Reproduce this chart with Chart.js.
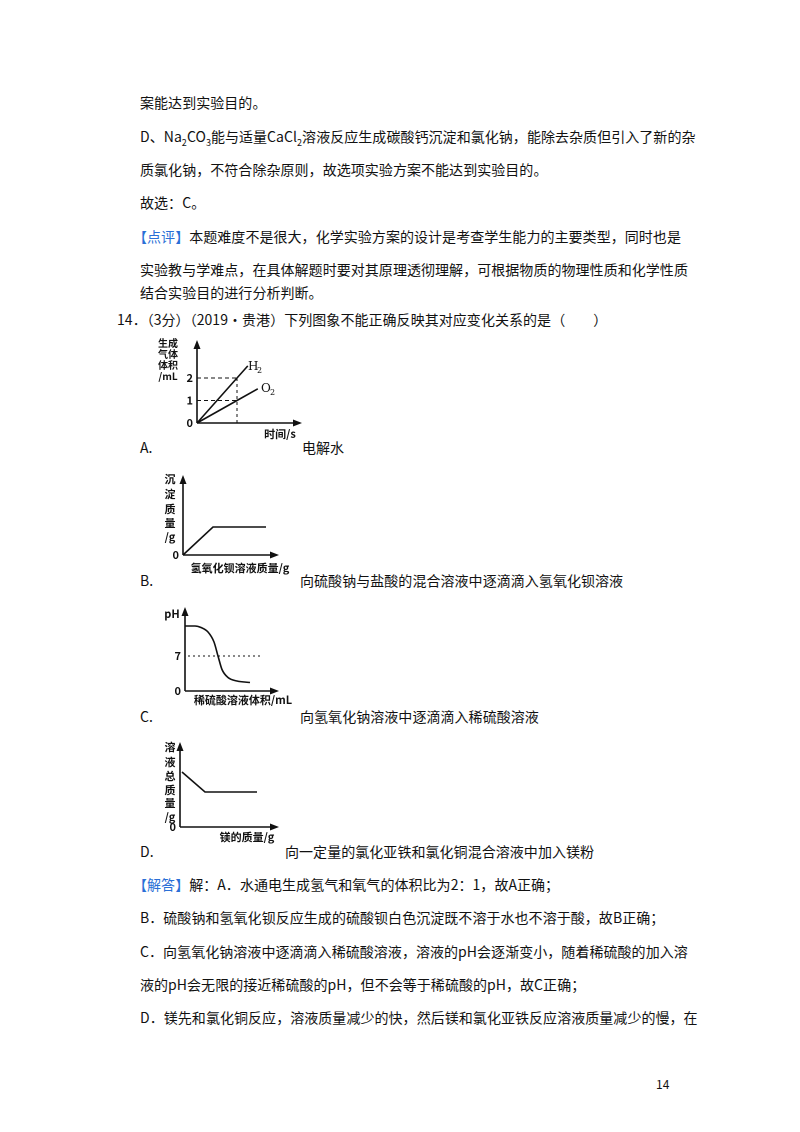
<!DOCTYPE html>
<html><head><meta charset="utf-8">
<script src="https://cdn.jsdelivr.net/npm/chart.js@4/dist/chart.umd.min.js"></script>
<style>
body{margin:0;background:#fff;width:800px;height:1132px;position:relative;overflow:hidden;font-family:"Noto Sans CJK SC",sans-serif;color:#111}
.t{position:absolute;font-size:14px;white-space:nowrap;letter-spacing:0.05px;line-height:1}
.b{color:#2a6fd6}
canvas{position:absolute}
</style></head><body>
<div class="t" style="left:140px;top:95px">案能达到实验目的。</div>
<div class="t" style="left:140px;top:129px">D、Na<sub style="font-size:9px">2</sub>CO<sub style="font-size:9px">3</sub>能与适量CaCl<sub style="font-size:9px">2</sub>溶液反应生成碳酸钙沉淀和氯化钠，能除去杂质但引入了新的杂</div>
<div class="t" style="left:140px;top:162px">质氯化钠，不符合除杂原则，故选项实验方案不能达到实验目的。</div>
<div class="t" style="left:140px;top:195px">故选：C。</div>
<div class="t" style="left:133px;top:229px"><span class="b">【点评】</span>本题难度不是很大，化学实验方案的设计是考查学生能力的主要类型，同时也是</div>
<div class="t" style="left:140px;top:262px">实验教与学难点，在具体解题时要对其原理透彻理解，可根据物质的物理性质和化学性质</div>
<div class="t" style="left:140px;top:285px">结合实验目的进行分析判断。</div>
<div class="t" style="left:117px;top:312px">14．（3分）（2019•贵港）下列图象不能正确反映其对应变化关系的是（　　）</div>
<div class="t" style="left:140px;top:440px">A.</div><div class="t" style="left:302px;top:440px">电解水</div>
<div class="t" style="left:140px;top:573px">B.</div><div class="t" style="left:300px;top:573px">向硫酸钠与盐酸的混合溶液中逐滴滴入氢氧化钡溶液</div>
<div class="t" style="left:140px;top:709px">C.</div><div class="t" style="left:300px;top:709px">向氢氧化钠溶液中逐滴滴入稀硫酸溶液</div>
<div class="t" style="left:140px;top:844px">D.</div><div class="t" style="left:285px;top:844px">向一定量的氯化亚铁和氯化铜混合溶液中加入镁粉</div>
<div class="t" style="left:133px;top:877px"><span class="b">【解答】</span>解：A．水通电生成氢气和氧气的体积比为2：1，故A正确；</div>
<div class="t" style="left:140px;top:910px">B．硫酸钠和氢氧化钡反应生成的硫酸钡白色沉淀既不溶于水也不溶于酸，故B正确；</div>
<div class="t" style="left:140px;top:944px">C．向氢氧化钠溶液中逐滴滴入稀硫酸溶液，溶液的pH会逐渐变小，随着稀硫酸的加入溶</div>
<div class="t" style="left:140px;top:977px">液的pH会无限的接近稀硫酸的pH，但不会等于稀硫酸的pH，故C正确；</div>
<div class="t" style="left:140px;top:1010px">D．镁先和氯化铜反应，溶液质量减少的快，然后镁和氯化亚铁反应溶液质量减少的慢，在</div>
<div class="t" style="left:656px;top:1078px;font-size:12px">14</div>
<canvas id="cA"></canvas><canvas id="cB"></canvas><canvas id="cC"></canvas><canvas id="cD"></canvas>
<script>
// ---- data ----
const aH2 = [[0,0],[1,2],[1.27,2.54]];
const aO2 = [[0,0],[1,1],[1.52,1.52]];
const aTicks = ['0','1','2'];
const aYLabel = ['生成','气体','体积','/mL'];
const aXLabel = '时间/s';
const bSeries = [[0,0],[3,2.8],[8.3,2.8]];
const bYLabel = ['沉','淀','质','量','/g'];
const bXLabel = '氢氧化钡溶液质量/g';
const cSeries = [[0,13],[1,13],[1.6,12.7],[2.3,11.8],[2.9,9.8],[3.3,7],[3.7,4.3],[4.3,2.7],[5.2,2],[6.5,1.7]];
const cTicks = ['0','7'];
const cYLabel = ['pH'];
const cXLabel = '稀硫酸溶液体积/mL';
const dSeries = [[0.2,5.5],[2.5,3.5],[7.7,3.5]];
const dYLabel = ['溶','液','总','质','量','/g'];
const dXLabel = '镁的质量/g';

const pts = a => a.map(p=>({x:p[0],y:p[1]}));
const F = '"Noto Sans CJK SC",sans-serif';

const sketch = {id:'sketch', afterDraw(ch){
  const o = ch.options.plugins.sketch, c = ch.ctx, L=o.box[0], T=o.box[1];
  const X=v=>ch.scales.x.getPixelForValue(v), Y=v=>ch.scales.y.getPixelForValue(v);
  const ox=X(0), oy=Y(0), top=o.yTop-T, xe=o.xEnd-L;
  c.save(); c.strokeStyle='#111'; c.fillStyle='#111'; c.lineWidth=1.6;
  c.beginPath(); c.moveTo(ox,oy); c.lineTo(ox,top+4); c.moveTo(ox,oy); c.lineTo(xe-4,oy); c.stroke();
  c.beginPath(); c.moveTo(ox,top); c.lineTo(ox-3.5,top+9); c.lineTo(ox+3.5,top+9); c.fill();
  c.beginPath(); c.moveTo(xe,oy); c.lineTo(xe-9,oy-3.5); c.lineTo(xe-9,oy+3.5); c.fill();
  (o.guides||[]).forEach(g=>{c.setLineDash(g.dash); c.lineWidth=1; c.beginPath();
    c.moveTo(X(g.a[0]),Y(g.a[1])); c.lineTo(X(g.b[0]),Y(g.b[1])); c.stroke();});
  c.setLineDash([]);
  c.font='bold 11px '+F; c.textAlign='right'; c.textBaseline='middle';
  (o.ticks||[]).forEach(t=>c.fillText(t.t, ox-4, Y(t.v)));
  c.textAlign='center';
  c.font='bold '+(o.yLabel.fs||11)+'px '+F;
  o.yLabel.lines.forEach((s,i)=>c.fillText(s, o.yLabel.x-L, o.yLabel.y[i]-T));
  c.font='bold 11px '+F;
  c.fillText(o.xLabel.t, o.xLabel.x-L, o.xLabel.y-T);
  (o.notes||[]).forEach(n=>{c.textAlign='left'; c.font='12px "DejaVu Serif",serif'; c.fillText(n.t,n.x-L,n.y-T);
    c.font='8px "DejaVu Serif",serif'; c.fillText(n.s,n.x-L+9,n.y-T+4);});
  c.restore();
}};

function make(id, cfg, datasets){
  const [L,T,W,H]=cfg.box, [ox,oy]=cfg.origin;
  const cv=document.getElementById(id);
  cv.style.left=L+'px'; cv.style.top=T+'px';
  new Chart(cv,{type:'scatter',data:{datasets:datasets.map(d=>({data:pts(d.data),showLine:true,borderColor:'#111',borderWidth:1.6,pointRadius:0,
      tension:d.smooth?0.4:0,cubicInterpolationMode:d.smooth?'monotone':'default'}))},
    options:{responsive:false,animation:false,devicePixelRatio:2,layout:{padding:0},
      plugins:{legend:{display:false},tooltip:{enabled:false},sketch:cfg},
      scales:{x:{type:'linear',display:false,min:(L-ox)/cfg.sx,max:(L+W-ox)/cfg.sx},
              y:{type:'linear',display:false,min:-(T+H-oy)/cfg.sy,max:(oy-T)/cfg.sy}}},
    plugins:[sketch]});
  cv.style.width=W+'px'; cv.style.height=H+'px';
}
function sizeCanvas(id,b){const cv=document.getElementById(id);cv.width=b[2];cv.height=b[3];}

const cfgA={box:[145,332,190,125],origin:[197,423],sx:40,sy:22.5,yTop:340,xEnd:302,
  ticks:[{v:0,t:aTicks[0]},{v:1,t:aTicks[1]},{v:2,t:aTicks[2]}],
  yLabel:{lines:aYLabel,x:168,y:[343,354,365,376],fs:10}, xLabel:{t:aXLabel,x:280,y:434},
  guides:[{a:[0,2],b:[1,2],dash:[4,3]},{a:[0,1],b:[1,1],dash:[4,3]},{a:[1,0],b:[1,2],dash:[3,3]}],
  notes:[{t:'H',s:'2',x:248,y:367},{t:'O',s:'2',x:261,y:389}]};
const cfgB={box:[145,468,190,115],origin:[183,555],sx:10,sy:10,yTop:475,xEnd:279,
  ticks:[{v:0,t:'0'}], yLabel:{lines:bYLabel,x:170,y:[479,494,509,523,537]}, xLabel:{t:bXLabel,x:240,y:568}};
const cfgC={box:[145,600,190,110],origin:[185,691],sx:10,sy:5,yTop:607,xEnd:279,
  ticks:[{v:0,t:cTicks[0]},{v:7,t:cTicks[1]}], yLabel:{lines:cYLabel,x:172,y:[614]}, xLabel:{t:cXLabel,x:243,y:700},
  guides:[{a:[0.3,7],b:[7.8,7],dash:[2,3]}]};
const cfgD={box:[145,735,190,110],origin:[180,827],sx:10,sy:10,yTop:742,xEnd:279,
  ticks:[{v:0,t:'0'}], yLabel:{lines:dYLabel,x:170,y:[747,762,776,790,803,817]}, xLabel:{t:dXLabel,x:247,y:837}};

[['cA',cfgA],['cB',cfgB],['cC',cfgC],['cD',cfgD]].forEach(([i,c])=>sizeCanvas(i,c.box));
make('cA',cfgA,[{data:aH2},{data:aO2}]);
make('cB',cfgB,[{data:bSeries}]);
make('cC',cfgC,[{data:cSeries,smooth:true}]);
make('cD',cfgD,[{data:dSeries}]);
</script></body></html>
